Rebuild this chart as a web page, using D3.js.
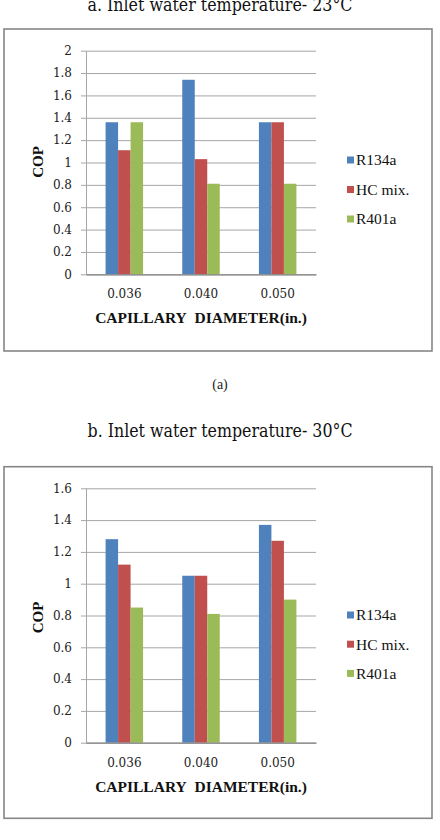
<!DOCTYPE html>
<html><head><meta charset="utf-8">
<script src="https://cdn.jsdelivr.net/npm/d3@7"></script>
<style>
html,body{margin:0;padding:0;background:#fff;}
svg{display:block;}
</style></head>
<body>
<script>
// ---- data ----
const categories = ["0.036", "0.040", "0.050"];
const seriesNames = ["R134a", "HC mix.", "R401a"];
const seriesColors = ["#4F81BD", "#C0504D", "#9BBB59"];

const topTitle = "a. Inlet water temperature- 23°C";
const topR134a = [1.36, 1.74, 1.36];
const topHCmix = [1.11, 1.03, 1.36];
const topR401a = [1.36, 0.81, 0.81];
const topTicks = [0, 0.2, 0.4, 0.6, 0.8, 1, 1.2, 1.4, 1.6, 1.8, 2];

const bottomTitle = "b. Inlet water temperature- 30°C";
const botR134a = [1.28, 1.05, 1.37];
const botHCmix = [1.12, 1.05, 1.27];
const botR401a = [0.85, 0.81, 0.90];
const botTicks = [0, 0.2, 0.4, 0.6, 0.8, 1, 1.2, 1.4, 1.6];

const captionA = "(a)";
const yLabel = "COP";
const xLabel = "CAPILLARY\u00a0\u00a0DIAMETER(in.)";

// ---- drawing ----
const W = 440, H = 840;
const svg = d3.select("body").append("svg").attr("width", W).attr("height", H);

const titleFont = "'DejaVu Serif Condensed','DejaVu Serif',serif";
const serif = "'Liberation Serif','Times New Roman',serif";
const tickFont = "'DejaVu Serif',serif";

function title(text, y, size) {
  svg.append("text").attr("x", 220).attr("y", y)
    .attr("text-anchor", "middle")
    .attr("font-family", titleFont).attr("font-size", size)
    .attr("textLength", 265).attr("lengthAdjust", "spacingAndGlyphs")
    .attr("fill", "#111").text(text);
}

function chart(opt) {
  const g = svg.append("g");
  // frame
  g.append("rect").attr("x", opt.box[0]).attr("y", opt.box[1])
    .attr("width", opt.box[2]).attr("height", opt.box[3])
    .attr("fill", "#fff").attr("stroke", "#868686").attr("stroke-width", 1.6);

  const x = d3.scaleBand().domain(categories).range([86, 316])
    .paddingInner(0.511).paddingOuter(0.2555);
  const xs = d3.scaleBand().domain(seriesNames).range([0, x.bandwidth()]);
  const y = d3.scaleLinear().domain([0, opt.ticks[opt.ticks.length - 1]]).range([opt.y0, opt.y1]);

  // gridlines
  g.append("g").attr("transform", "translate(86,0)")
    .call(d3.axisLeft(y).tickValues(opt.ticks).tickSize(-230).tickFormat(""))
    .call(s => s.select(".domain").remove())
    .call(s => s.selectAll("line").attr("stroke", "#a6a6a6").attr("stroke-width", 1));

  // y axis
  g.append("g").attr("transform", "translate(86,0)")
    .call(d3.axisLeft(y).tickValues(opt.ticks).tickSizeInner(5).tickSizeOuter(0).tickPadding(9)
      .tickFormat(d => String(+d.toFixed(1))))
    .call(s => s.select(".domain").attr("stroke", "#a6a6a6"))
    .call(s => s.selectAll("line").attr("stroke", "#a6a6a6"))
    .call(s => s.selectAll("text").attr("font-family", tickFont).attr("font-size", 12).attr("fill", "#222"));

  // bars
  const data = [];
  categories.forEach((c, i) => seriesNames.forEach((s, j) => data.push({c, s, j, v: opt.values[j][i]})));
  g.append("g").selectAll("rect").data(data).join("rect")
    .attr("x", d => x(d.c) + xs(d.s))
    .attr("width", xs.bandwidth())
    .attr("y", d => y(d.v))
    .attr("height", d => y(0) - y(d.v))
    .attr("fill", d => seriesColors[d.j]);

  // x axis
  g.append("g").attr("transform", `translate(0,${opt.y0})`)
    .call(d3.axisBottom(x).tickSize(0).tickPadding(15.5))
    .call(s => s.select(".domain").attr("stroke", "#868686").attr("stroke-width", 1.2))
    .call(s => s.selectAll("text").attr("font-family", tickFont).attr("font-size", 12).attr("fill", "#222"));

  // axis titles
  g.append("text").attr("x", 201).attr("y", opt.y0 + 49)
    .attr("text-anchor", "middle").attr("font-family", serif).attr("font-weight", "bold")
    .attr("font-size", 15.5).attr("fill", "#111").text(xLabel);
  g.append("text").attr("transform", `translate(43,${opt.copY}) rotate(-90)`)
    .attr("text-anchor", "middle").attr("font-family", serif).attr("font-weight", "bold")
    .attr("font-size", 15).attr("fill", "#111").text(yLabel);

  // legend
  const lg = g.append("g").selectAll("g").data(seriesNames).join("g")
    .attr("transform", (d, i) => `translate(347,${opt.legY + i * opt.legStep})`);
  lg.append("rect").attr("x", 0).attr("y", -3.5).attr("width", 7).attr("height", 7)
    .attr("fill", (d, i) => seriesColors[i]);
  lg.append("text").attr("x", 9).attr("y", 5.3)
    .attr("font-family", serif).attr("font-size", 15.5).attr("fill", "#111").text(d => d);
}

title(topTitle, 11, 19);
chart({box: [4, 29, 428, 322], y0: 274.3, y1: 50.7, ticks: topTicks,
  values: [topR134a, topHCmix, topR401a], copY: 162, legY: 160, legStep: 29.5});

svg.append("text").attr("x", 220).attr("y", 389).attr("text-anchor", "middle")
  .attr("font-family", serif).attr("font-size", 14).attr("fill", "#222").text(captionA);

title(bottomTitle, 437.3, 19);
chart({box: [4, 466.7, 428, 351.6], y0: 742.7, y1: 488.3, ticks: botTicks,
  values: [botR134a, botHCmix, botR401a], copY: 617.5, legY: 615, legStep: 29.2});
</script>
</body></html>
